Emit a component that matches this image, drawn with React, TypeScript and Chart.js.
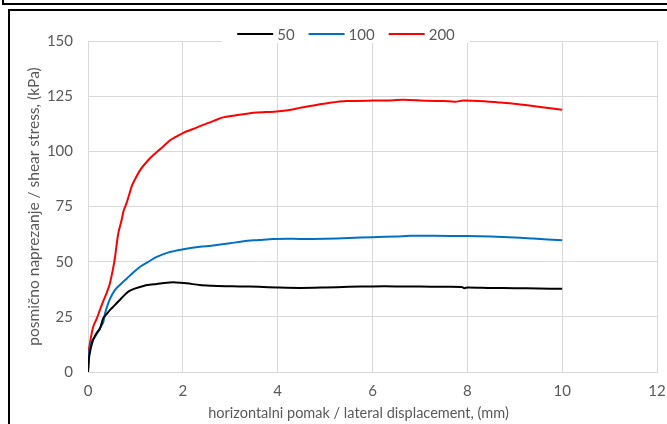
import React, { useEffect, useRef } from "react";
import { Chart, registerables } from "chart.js";

Chart.register(...registerables);

const seriesLabels = ["50", "100", "200"];
const seriesColors = ["#000000", "#0070C0", "#FF0000"];

const disp50 = [0, 0.02, 0.05, 0.1, 0.15, 0.2, 0.25, 0.32, 0.4, 0.48, 0.57, 0.7, 0.85, 1.0, 1.17, 1.3, 1.45, 1.66, 1.85, 2.08, 2.36, 2.6, 2.9, 3.2, 3.6, 4.0, 4.47, 5.0, 5.5, 6.0, 6.5, 7.0, 7.5, 7.88, 7.94, 8.0, 8.5, 9.0, 9.5, 10.0];
const stress50 = [0, 6, 10, 14, 16.5, 18.2, 19.5, 24.3, 26.5, 28.5, 30.4, 33.3, 36.4, 37.9, 39, 39.5, 39.9, 40.5, 40.6, 40.2, 39.4, 39.1, 38.9, 38.8, 38.6, 38.3, 38.1, 38.3, 38.6, 38.8, 38.8, 38.7, 38.6, 38.5, 38.0, 38.3, 38.1, 38.0, 37.8, 37.7];

const disp100 = [0, 0.02, 0.04, 0.08, 0.15, 0.25, 0.32, 0.36, 0.45, 0.57, 0.7, 0.82, 0.95, 1.1, 1.3, 1.45, 1.7, 2.01, 2.36, 2.6, 3.0, 3.28, 3.6, 3.91, 4.2, 4.47, 5.0, 5.5, 6.0, 6.5, 6.79, 7.3, 7.99, 8.5, 9.0, 9.39, 10.0];
const stress100 = [0, 7, 11.5, 14, 16, 19.8, 22.5, 26.6, 32.5, 37.2, 40, 42.4, 45, 47.7, 50.3, 52.2, 54.2, 55.6, 56.8, 57.2, 58.3, 59.3, 59.8, 60.3, 60.4, 60.3, 60.4, 60.7, 61.1, 61.4, 61.7, 61.7, 61.6, 61.4, 61.0, 60.5, 59.7];

const disp200 = [0, 0.01, 0.04, 0.11, 0.18, 0.25, 0.32, 0.39, 0.46, 0.53, 0.57, 0.6, 0.64, 0.71, 0.75, 0.82, 0.92, 0.96, 1.1, 1.25, 1.38, 1.55, 1.73, 1.85, 2.01, 2.2, 2.43, 2.65, 2.85, 3.1, 3.49, 3.75, 3.98, 4.26, 4.47, 4.68, 5.1, 5.46, 6.02, 6.3, 6.65, 7.14, 7.5, 7.74, 7.92, 8.41, 8.7, 9.04, 9.5, 10.0];
const stress200 = [0, 8.5, 13, 20.5, 24, 28, 32, 35.6, 40, 47, 52, 57, 63, 69, 73, 77, 84, 86, 91.5, 95.5, 98.3, 101.5, 105, 106.5, 108.4, 110, 112, 113.8, 115.4, 116.2, 117.5, 117.8, 118, 118.7, 119.7, 120.5, 122, 122.8, 123, 123, 123.4, 122.9, 122.8, 122.5, 123, 122.6, 122.1, 121.4, 120.2, 118.8];

const xTickMin = 0;
const xTickMax = 12;
const xTickStep = 2;
const yTickMin = 0;
const yTickMax = 150;
const yTickStep = 25;

const xTitle = "horizontalni pomak / lateral displacement, (mm)";
const yTitle = "posmično naprezanje / shear stress, (kPa)";

const FONT = "Lato, 'Open Sans', sans-serif";
const TEXT = "#595959";
const GRID = "#d9d9d9";

function toPoints(xs: number[], ys: number[]) {
  return xs.map((x, i) => ({ x, y: ys[i] }));
}

const legendPlugin = {
  id: "customLegend",
  afterDraw(chart: any) {
    const ctx = chart.ctx;
    const ds = chart.data.datasets;
    ctx.save();
    ctx.font = `15px ${FONT}`;
    const lineLen = 36;
    const gapText = 4;
    const gapItem = 14;
    const widths = ds.map((d: any) => lineLen + gapText + ctx.measureText(d.label).width);
    const total = widths.reduce((a: number, b: number) => a + b, 0) + gapItem * (ds.length - 1);
    const cx = 346;
    const cy = 34;
    let x = cx - total / 2;
    ctx.fillStyle = "#ffffff";
    ctx.fillRect(x - 15, cy - 10, total + 30, 19);
    ctx.textBaseline = "middle";
    ds.forEach((d: any, i: number) => {
      ctx.strokeStyle = d.borderColor;
      ctx.lineWidth = 2;
      ctx.beginPath();
      ctx.moveTo(x, cy);
      ctx.lineTo(x + lineLen, cy);
      ctx.stroke();
      ctx.fillStyle = TEXT;
      ctx.textAlign = "left";
      ctx.fillText(d.label, x + lineLen + gapText, cy + 1);
      x += widths[i] + gapItem;
    });
    ctx.restore();
  },
};

const shiftTitlePlugin = {
  id: "shiftXTitle",
  afterLayout(chart: any) {
    const s = chart.scales.x;
    if (!s || s._shifted) return;
    const orig = s.drawTitle.bind(s);
    s.drawTitle = (...args: any[]) => {
      const c = chart.ctx;
      c.save();
      c.translate(-14, 0);
      orig(...args);
      c.restore();
    };
    s._shifted = true;
  },
};

function ChartView() {
  const ref = useRef<HTMLCanvasElement>(null);
  useEffect(() => {
    if (!ref.current) return;
    const data = [
      toPoints(disp50, stress50),
      toPoints(disp100, stress100),
      toPoints(disp200, stress200),
    ];
    const chart = new Chart(ref.current, {
      type: "line",
      data: {
        datasets: data.map((pts, i) => ({
          label: seriesLabels[i],
          data: pts,
          borderColor: seriesColors[i],
          backgroundColor: seriesColors[i],
          borderWidth: 2,
          pointRadius: 0,
          tension: 0.3,
          fill: false,
        })),
      },
      options: {
        animation: false,
        responsive: false,
        maintainAspectRatio: false,
        layout: { padding: { top: 41, right: 10, left: 0, bottom: 0 } },
        plugins: {
          legend: { display: false },
          tooltip: { enabled: false },
        },
        scales: {
          x: {
            type: "linear",
            min: xTickMin,
            max: xTickMax,
            ticks: { stepSize: xTickStep, color: TEXT, font: { family: FONT, size: 15 }, padding: 10, maxRotation: 0 },
            grid: { color: GRID, lineWidth: 1, drawTicks: false },
            border: { color: GRID, width: 1 },
            title: { display: true, text: xTitle, color: TEXT, font: { family: FONT, size: 14.5 }, padding: { top: 0, bottom: 2 } },
            afterFit: (s: any) => { s.height = 52; s.paddingRight = 0; s.paddingLeft = 0; },
          },
          y: {
            type: "linear",
            min: yTickMin,
            max: yTickMax,
            ticks: { stepSize: yTickStep, color: TEXT, font: { family: FONT, size: 15 }, padding: 15 },
            grid: { color: GRID, lineWidth: 1, drawTicks: false },
            border: { color: GRID, width: 1 },
            title: { display: true, text: yTitle, color: TEXT, font: { family: FONT, size: 15.5 }, padding: { top: 25, bottom: 0 } },
            afterFit: (s: any) => { s.width = 88; s.paddingTop = 0; s.paddingBottom = 0; },
          },
        },
      },
      plugins: [legendPlugin, shiftTitlePlugin],
    } as any);
    return () => chart.destroy();
  }, []);
  return <canvas ref={ref} width={667} height={424} style={{ position: "absolute", left: 0, top: 0, width: 667, height: 424 }} />;
}

export default function App() {
  return (
    <div style={{ position: "absolute", left: 0, top: 0, width: 667, height: 424, overflow: "hidden", background: "#ffffff" }}>
      <div style={{ position: "absolute", left: 2, top: -30, width: 700, height: 35, border: "2px solid #000", boxSizing: "border-box" as any }} />
      <div style={{ position: "absolute", left: 8, top: 9, width: 720, height: 500, border: "2px solid #000", boxSizing: "border-box" as any }} />
      <ChartView />
    </div>
  );
}
